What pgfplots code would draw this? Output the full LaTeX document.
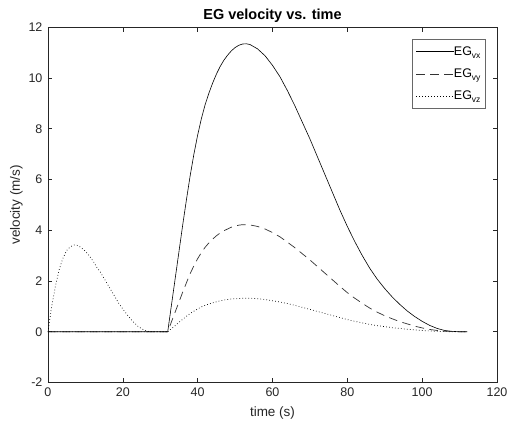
\documentclass[border=0pt]{standalone}
\usepackage{fontspec}
\setmainfont{Liberation Sans}
\usepackage{pgfplots}
\pgfplotsset{compat=1.18}
\definecolor{axgray}{rgb}{0.15,0.15,0.15}
\newcommand{\sub}[1]{\raisebox{-0.45ex}{\fontsize{8.5}{9}\selectfont #1}}

\pgfplotstableread{
t vx vy vz
0 0 0 0
32 0 0 0
33 1.05 0.39 0.12
34 2.1 0.78 0.24
35 3.15 1.17 0.37
36 4.2 1.56 0.49
37 5.2 1.93 0.61
38 6.15 2.29 0.72
39 7.0 2.60 0.81
40 7.75 2.88 0.90
41 8.4 3.12 0.98
42 8.95 3.33 1.04
43 9.4 3.50 1.09
44 9.8 3.65 1.14
45 10.15 3.78 1.18
46 10.45 3.89 1.22
47 10.7 3.98 1.25
48 10.9 4.05 1.27
49 11.07 4.12 1.29
50 11.2 4.17 1.30
51 11.29 4.20 1.31
52 11.34 4.22 1.32
53 11.35 4.22 1.32
54 11.32 4.21 1.32
56 11.15 4.15 1.30
58 10.88 4.05 1.27
60 10.5 3.91 1.22
62 10.05 3.74 1.17
64 9.5 3.53 1.11
66 8.9 3.31 1.04
68 8.25 3.07 0.96
70 7.6 2.83 0.88
72 6.9 2.57 0.80
74 6.2 2.31 0.72
76 5.5 2.05 0.64
78 4.8 1.79 0.56
80 4.15 1.54 0.48
82 3.55 1.32 0.41
84 3.0 1.12 0.35
86 2.5 0.93 0.29
88 2.07 0.77 0.24
90 1.7 0.63 0.20
92 1.37 0.51 0.16
94 1.08 0.40 0.13
96 0.82 0.31 0.10
98 0.6 0.22 0.07
100 0.41 0.15 0.05
102 0.25 0.09 0.03
104 0.13 0.05 0.015
106 0.05 0.02 0.006
108 0.015 0.01 0
110 0 0 0
112 0 0 0
}\vtable

% early EG_vz bump before t = 32 s
\pgfplotstableread{
t vz
0 0
1 1.0
2 1.8
3 2.45
4 2.9
5 3.2
6 3.35
7 3.42
8 3.40
9 3.3
10 3.17
11 3.0
12 2.8
13 2.55
14 2.35
15 2.1
16 1.85
17 1.6
18 1.35
19 1.1
20 0.9
21 0.7
22 0.52
23 0.36
24 0.22
25 0.12
26 0.05
27 0.01
28 0
32 0
}\vzearly

\begin{document}
\begin{tikzpicture}
\useasboundingbox (-48pt,-49.3pt) rectangle (461.3pt,382.7pt);
\begin{axis}[
  at={(0,0)}, anchor=south west,
  scale only axis,
  width=449.3pt, height=355.4pt,
  xmin=0, xmax=120, ymin=-2, ymax=12,
  xtick={0,20,...,120}, ytick={-2,0,...,12},
  tick align=inside, major tick length=4.5pt,
  xtick pos=both, ytick pos=both,
  axis line style={axgray, line width=0.6pt},
  tick style={axgray, line width=0.6pt},
  every tick label/.append style={font=\fontsize{12.5}{14}\selectfont, text=axgray},
  xticklabel style={yshift=-2pt},
  yticklabel style={xshift=-2pt},
  /pgf/number format/assume math mode=true,
  xlabel={time (s)}, ylabel={velocity (m/s)},
  label style={font=\fontsize{13.5}{15}\selectfont, text=axgray},
  xlabel style={yshift=-3pt},
  ylabel style={yshift=-1pt},
  title={\textbf{EG velocity vs. time}},
  title style={font=\fontsize{14.5}{16}\selectfont, yshift=-5pt},
  legend cell align=left,
  legend style={at={(0.975,0.966)}, anchor=north east, draw=axgray!70,
    line width=0.6pt, font=\fontsize{12.5}{14}\selectfont,
    row sep=8pt, inner xsep=3pt, inner ysep=5pt},
  legend image code/.code={\draw[#1] (0pt,0pt) -- (38pt,0pt);},
]
\addplot[black, line width=0.6pt] table[x=t, y=vx] {\vtable};
\addlegendentry{\hspace*{-2.5pt}EG\sub{vx}}
\addplot[black!80, line width=0.7pt, dash pattern=on 8.5pt off 5.5pt] table[x=t, y=vy] {\vtable};
\addlegendentry{\hspace*{-2.5pt}EG\sub{vy}}
\addplot[black, line width=0.7pt, dash pattern=on 0.7pt off 2.3pt] table[x=t, y=vz] {\vtable};
\addlegendentry{\hspace*{-2.5pt}EG\sub{vz}}
\addplot[black, line width=0.7pt, dash pattern=on 0.7pt off 2.3pt, forget plot] table[x=t, y=vz] {\vzearly};
\end{axis}
\end{tikzpicture}
\end{document}
